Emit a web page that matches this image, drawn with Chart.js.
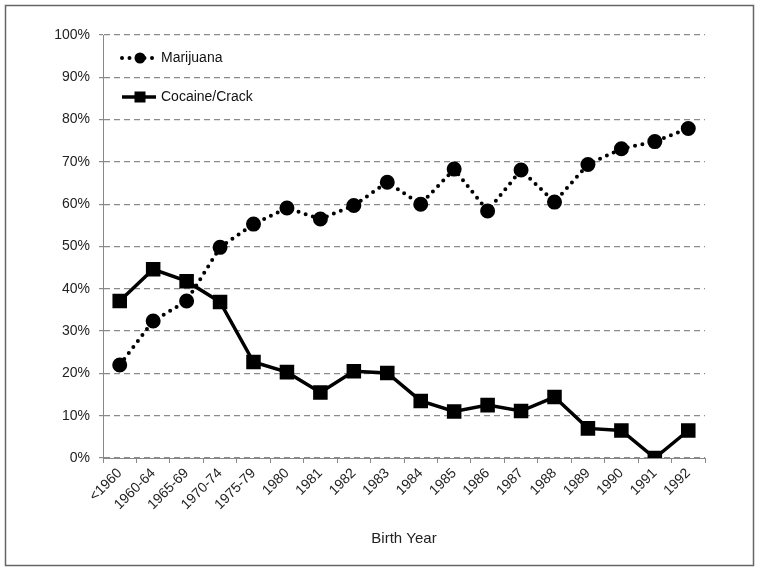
<!DOCTYPE html>
<html>
<head>
<meta charset="utf-8">
<script src="https://cdn.jsdelivr.net/npm/chart.js@4"></script>
<style>
  html, body { margin: 0; padding: 0; background: #fff; }
  #wrap { width: 760px; height: 572px; }
</style>
</head>
<body>
<div id="wrap"><canvas id="drugChart" width="760" height="572"></canvas></div>
<script>
const birthYears = ["<1960", "1960-64", "1965-69", "1970-74", "1975-79", "1980", "1981", "1982",
    "1983", "1984", "1985", "1986", "1987", "1988", "1989", "1990", "1991", "1992"];
const marijuana = [22, 32.4, 37.1, 49.8, 55.3, 59.1, 56.5, 59.7, 65.2, 60, 68.3, 58.4, 68.1, 60.5, 69.4, 73.1, 74.8, 77.9];
const cocaine = [37.1, 44.6, 41.8, 36.9, 22.7, 20.3, 15.5, 20.5, 20.1, 13.5, 11, 12.5, 11.1, 14.4, 7, 6.5, 0, 6.5];
const yTicks = [0, 10, 20, 30, 40, 50, 60, 70, 80, 90, 100];

const FONT = "'Liberation Sans', Arial, sans-serif";

// frame around the whole figure
const framePlugin = {
    id: 'frame',
    beforeDraw(chart) {
        const c = chart.ctx;
        c.save();
        c.fillStyle = '#fff';
        c.fillRect(0, 0, chart.width, chart.height);
        c.strokeStyle = '#666';
        c.lineWidth = 1.5;
        c.strokeRect(5.5, 5.5, 748, 560);
        c.restore();
    }
};

// legend sits inside the plot, top-left
const insideLegend = {
    id: 'insideLegend',
    afterDraw(chart) {
        const c = chart.ctx;
        const x0 = 122, x1 = 156, mx = 140, tx = 161;
        const rows = [58, 97];
        c.save();
        chart.data.datasets.forEach((ds, i) => {
            const y = rows[i];
            c.strokeStyle = '#000';
            c.lineWidth = ds.borderWidth;
            c.lineCap = ds.borderCapStyle || 'butt';
            c.setLineDash(ds.borderDash || []);
            c.beginPath();
            c.moveTo(x0, y);
            c.lineTo(x1, y);
            c.stroke();
            c.setLineDash([]);
            c.fillStyle = '#000';
            if (ds.pointStyle === 'rect') {
                c.fillRect(mx - 5.5, y - 5.5, 11, 11);
            } else {
                c.beginPath();
                c.arc(mx, y, ds.pointRadius, 0, Math.PI * 2);
                c.fill();
            }
            c.font = '14px ' + FONT;
            c.textBaseline = 'middle';
            c.fillStyle = '#111';
            c.fillText(ds.label, tx, y);
        });
        c.restore();
    }
};

new Chart(document.getElementById('drugChart').getContext('2d'), {
    type: 'line',
    data: {
        labels: birthYears,
        datasets: [
            {
                label: 'Marijuana',
                data: marijuana,
                borderColor: '#000',
                backgroundColor: '#000',
                borderWidth: 4,
                borderDash: [0, 7.5],
                borderCapStyle: 'round',
                pointStyle: 'circle',
                pointRadius: 5.5,
                tension: 0
            },
            {
                label: 'Cocaine/Crack',
                data: cocaine,
                borderColor: '#000',
                backgroundColor: '#000',
                borderWidth: 3.5,
                pointStyle: 'rect',
                pointRadius: 7.8,
                tension: 0
            }
        ]
    },
    options: {
        responsive: false,
        animation: false,
        layout: { padding: { top: 35, right: 55, bottom: 24, left: 0 } },
        plugins: {
            legend: { display: false },
            tooltip: { enabled: false }
        },
        scales: {
            x: {
                offset: true,
                grid: {
                    offset: true,
                    drawOnChartArea: false,
                    color: '#888',
                    tickLength: 5
                },
                border: { color: '#888', width: 1 },
                ticks: {
                    minRotation: 45,
                    maxRotation: 45,
                    color: '#222',
                    padding: 2,
                    font: { family: FONT, size: 14 }
                },
                title: {
                    display: true,
                    text: 'Birth Year',
                    color: '#222',
                    padding: { top: 0, bottom: 0 },
                    font: { family: FONT, size: 15 }
                },
                afterFit(scale) { scale.height = 90; }
            },
            y: {
                min: 0,
                max: 100,
                afterBuildTicks(scale) {
                    scale.ticks = yTicks.map(v => ({ value: v }));
                },
                grid: {
                    color: '#8a8a8a',
                    lineWidth: 1.2,
                    tickLength: 4,
                    tickBorderDash: []
                },
                border: { color: '#888', width: 1, dash: [6, 4] },
                ticks: {
                    color: '#222',
                    padding: 9,
                    font: { family: FONT, size: 14 },
                    callback: v => v + '%'
                },
                afterFit(scale) { scale.width = 103; }
            }
        }
    },
    plugins: [framePlugin, insideLegend]
});
</script>
</body>
</html>
